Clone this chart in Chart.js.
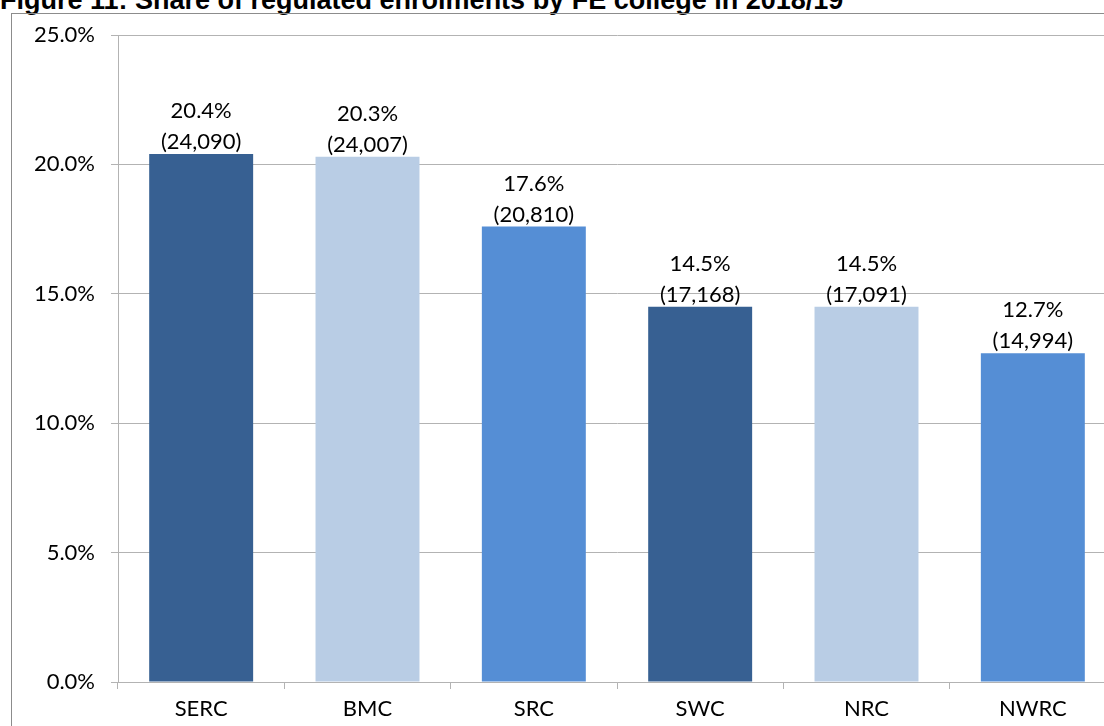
<!DOCTYPE html>
<html>
<head>
<meta charset="utf-8">
<script src="https://cdn.jsdelivr.net/npm/chart.js@4/dist/chart.umd.min.js"></script>
<style>
  html, body { margin: 0; padding: 0; width: 1104px; height: 726px; overflow: hidden; background: #fff; }
  #title { position: absolute; left: 0; top: -13px; font: bold 27px "Liberation Sans", Arial, sans-serif; line-height: 27px; color: #000; white-space: nowrap; }
  #frame { position: absolute; left: 11px; top: 13px; width: 1200px; height: 800px; border: 1.5px solid #8c8c8c; box-sizing: border-box; }
  #wrap { position: absolute; left: 0; top: 0; width: 1120px; height: 726px; }
</style>
</head>
<body>
<div id="title">Figure 11: Share of regulated enrolments by FE college in 2018/19</div>
<div id="frame"></div>
<div id="wrap"><canvas id="c" width="1120" height="726"></canvas></div>
<script>
const categories = ["SERC", "BMC", "SRC", "SWC", "NRC", "NWRC"];
const sharePct = [20.4, 20.3, 17.6, 14.5, 14.5, 12.7];
const enrolments = [24090, 24007, 20810, 17168, 17091, 14994];
const yTicks = [0, 5, 10, 15, 20, 25];
const barColors = ["#376092", "#B9CDE5", "#558ED5", "#376092", "#B9CDE5", "#558ED5"];

const FONT = "Lato, 'Open Sans', sans-serif";
const FSIZE = 22;

const labelPlugin = {
  id: 'barLabels',
  afterDatasetsDraw(chart) {
    const ctx = chart.ctx;
    const meta = chart.getDatasetMeta(0);
    ctx.save();
    ctx.fillStyle = '#000';
    ctx.font = FSIZE + 'px ' + FONT;
    ctx.textAlign = 'center';
    ctx.textBaseline = 'middle';
    meta.data.forEach((bar, i) => {
      ctx.fillText(sharePct[i].toFixed(1) + '%', bar.x, bar.y - 43);
      ctx.fillText('(' + enrolments[i].toLocaleString('en-GB') + ')', bar.x, bar.y - 12);
    });
    ctx.restore();
  }
};

new Chart(document.getElementById('c'), {
  type: 'bar',
  data: {
    labels: categories,
    datasets: [{
      data: sharePct,
      backgroundColor: barColors,
      borderWidth: 0,
      categoryPercentage: 1.0,
      barPercentage: 0.625
    }]
  },
  options: {
    responsive: false,
    devicePixelRatio: 1,
    animation: false,
    layout: { padding: { left: 0, top: 35, right: 4, bottom: 0 } },
    plugins: { legend: { display: false }, tooltip: { enabled: false }, title: { display: false } },
    scales: {
      y: {
        min: 0, max: 25,
        afterFit(scale) { scale.width = 118; },
        afterBuildTicks(scale) { scale.ticks = yTicks.map(v => ({ value: v })); },
        ticks: {
          font: { family: FONT, size: FSIZE },
          color: '#000',
          padding: 16,
          callback: v => Number(v).toFixed(1) + '%'
        },
        grid: { color: '#b3b3b3', lineWidth: 1, tickLength: 7 },
        border: { color: '#b3b3b3', width: 1 }
      },
      x: {
        afterFit(scale) { scale.height = 44; },
        ticks: {
          font: { family: FONT, size: FSIZE },
          color: '#000',
          padding: 7
        },
        grid: { offset: true, drawOnChartArea: false, drawTicks: true, tickLength: 7, color: '#b3b3b3' },
        border: { color: '#b3b3b3', width: 1 }
      }
    }
  },
  plugins: [labelPlugin]
});
</script>
</body>
</html>
